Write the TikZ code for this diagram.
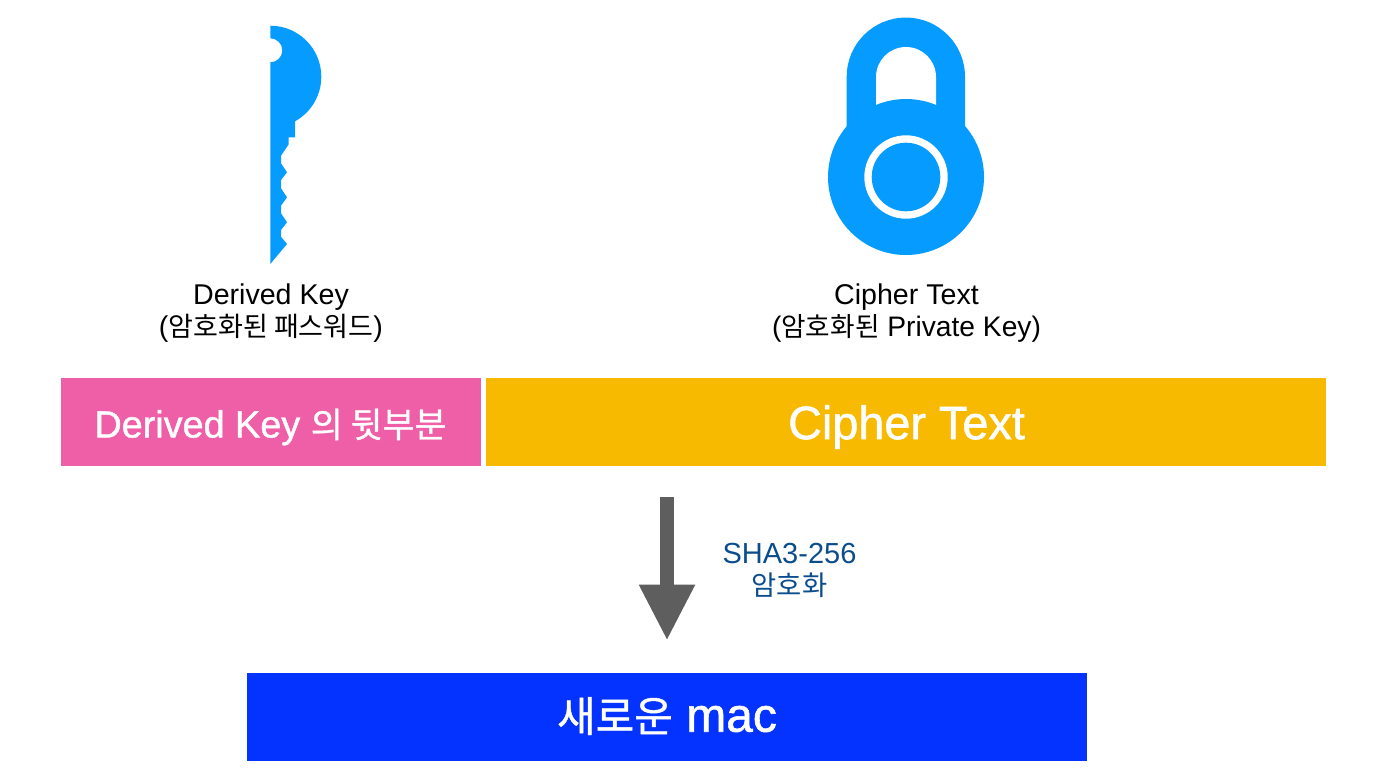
\documentclass[tikz,border=0pt]{standalone}
\usepackage{fontspec}
\setmainfont{Liberation Sans}
\newfontfamily\kr[Scale=0.945]{Noto Sans CJK KR}
\newfontfamily\barlatin[FakeBold=1.2]{Liberation Sans}
\newfontfamily\barkr[Scale=0.945,FakeBold=1.0]{Noto Sans CJK KR}
\usetikzlibrary{arrows.meta}
\definecolor{iconblue}{HTML}{069BFF}
\definecolor{barpink}{HTML}{EF5FA7}
\definecolor{barorange}{HTML}{F8BA00}
\definecolor{barblue}{HTML}{0433FF}
\definecolor{labelblue}{HTML}{0B4D8C}
\definecolor{arrowgray}{HTML}{5E5E5E}
\tikzset{
  bar/.style={draw=none,minimum height=44pt,inner sep=0pt,text=white,anchor=center},
  barface/.style={fill=none,draw=none,inner sep=0pt,text=white,anchor=center},
  caption/.style={align=center,text=black,font=\fontsize{14.3}{16}\selectfont,inner sep=0pt},
}
\begin{document}
\begin{tikzpicture}[x=0.5pt,y=-0.5pt]
\useasboundingbox (0,0) rectangle (1400,778);
% key
\fill[iconblue] (270.3,25.7) arc[start angle=-90,end angle=61.5,radius=51]
  -- (295,121.7) -- (295,137.3) -- (288.7,137.3) -- (288.7,144.3) -- (281,155.7) -- (281,163.3)
  -- (287,172.3) -- (281,180) -- (281,188.3) -- (287,197.3) -- (281,205.7) -- (281,213.3)
  -- (287,222.3) -- (281,230) -- (281,236.7) -- (287,244) -- (270.3,264) -- (270.3,62.3)
  arc[start angle=90,end angle=-90,radius=12] -- cycle;
% lock
\fill[iconblue] (846.7,130) -- (846.7,76.7) arc[start angle=180,end angle=360,radius=59.15] -- (965,130) -- cycle;
\fill[white] (876,110) -- (876,77) arc[start angle=180,end angle=360,radius=30] -- (936,110) -- cycle;
\fill[iconblue] (906,177) circle[radius=78];
\fill[white] (906,177) circle[radius=41.7];
\fill[iconblue] (906,177) circle[radius=34.3];
% captions
\node[caption] (capkey) at (271,313) {Derived Key\\({\kr 암호화된 패스워드})};
\node[caption] (caplock) at (906.5,313) {Cipher Text\\{\fontsize{14.1}{16}\selectfont({\kr 암호화된} Private Key)}};
% bars
\node[bar,fill=barpink,minimum width=210pt] (pink) at (271,422) {};
\node[barface,font=\fontsize{18.9}{20}\selectfont\barlatin] (pinktext) at (270.5,427) {Derived Key {\fontsize{18.4}{20}\selectfont\barkr 의 뒷부분}};
\node[bar,fill=barorange,minimum width=420pt] (orange) at (906,422) {};
\node[barface,font=\fontsize{23.4}{24}\selectfont\barlatin] (orangetext) at (906.5,427) {Cipher Text};
\node[bar,fill=barblue,minimum width=420pt] (mac) at (667,717) {};
\node[barface,font=\fontsize{24}{24}\selectfont\barlatin] (mactext) at (667,716) {{\fontsize{22.2}{24}\selectfont\barkr 새로운} mac};
% arrow
\coordinate (arrowstart) at (667,497.3);
\coordinate (arrowend) at (667,640.7);
\draw[arrowgray,line width=7pt,-{Triangle[length=28pt,width=26pt]}] (arrowstart) -- (arrowend);
\node[align=center,text=labelblue,inner sep=0pt,font=\fontsize{14.5}{16}\selectfont] (hash) at (789.5,570) {SHA3-256\\{\kr 암호화}};
\end{tikzpicture}
\end{document}
